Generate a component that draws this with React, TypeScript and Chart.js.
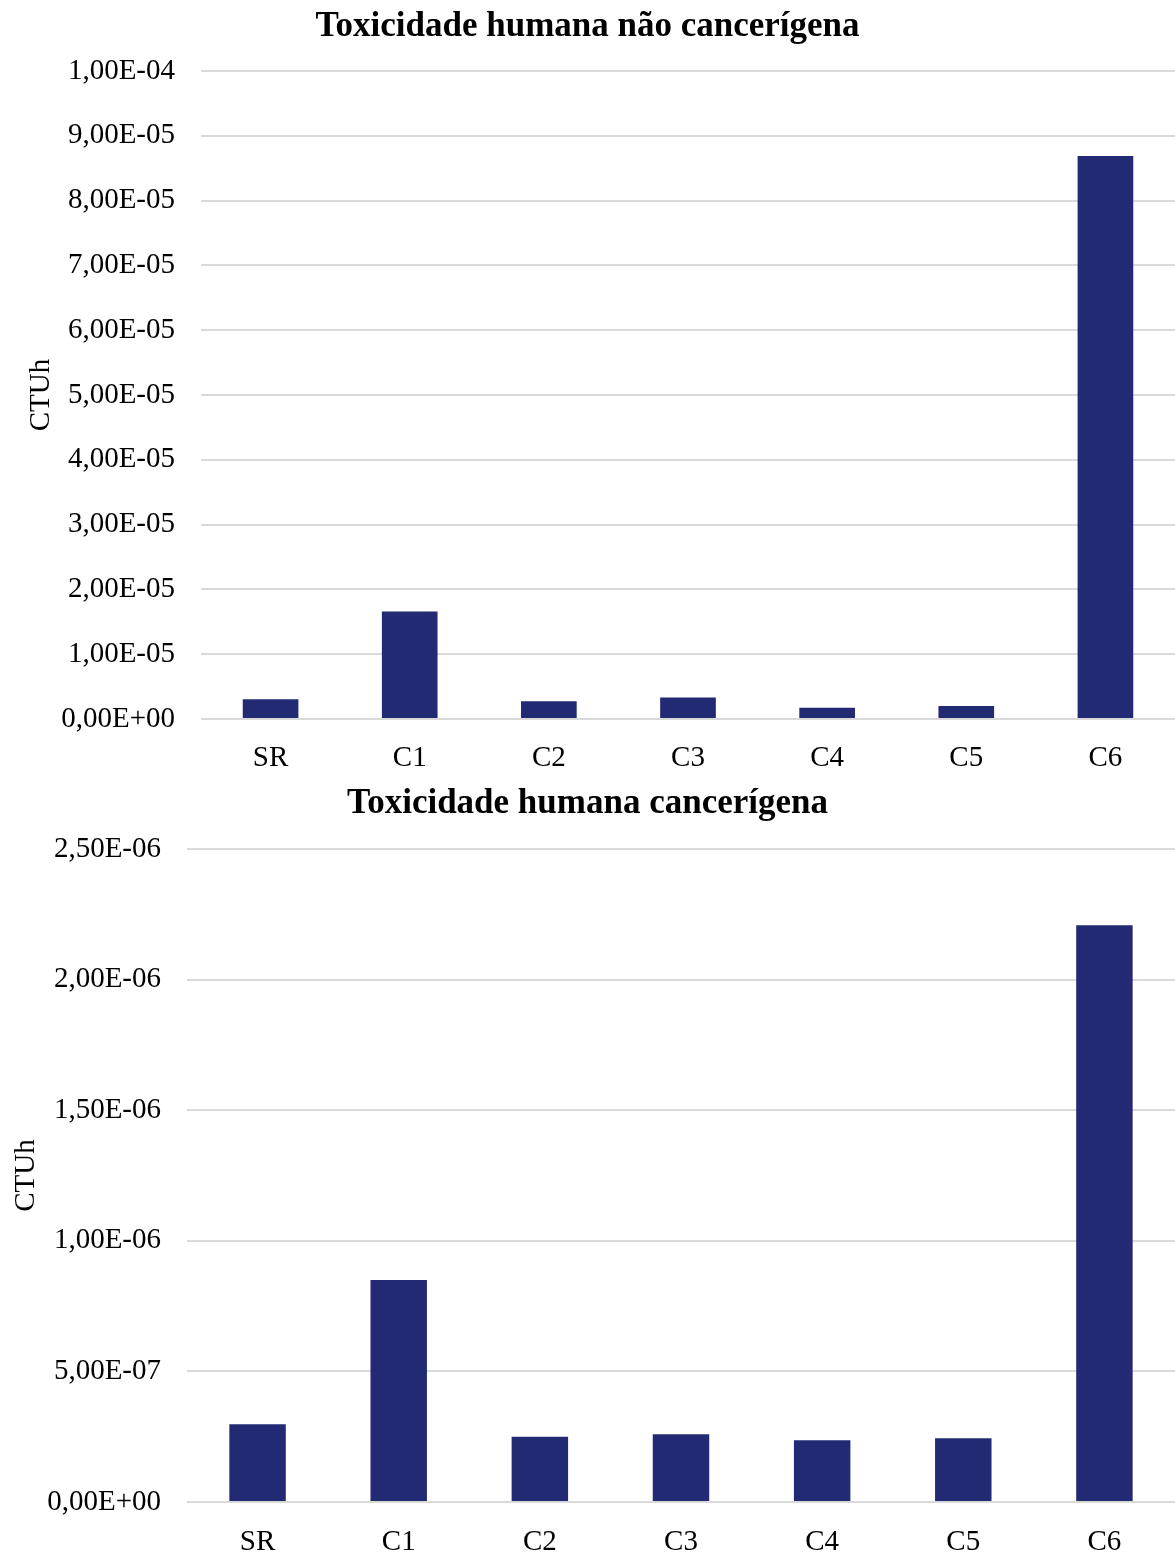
import React, { useEffect, useRef } from "react";
import { Chart, registerables } from "chart.js";

Chart.register(...registerables);

const categories = ["SR", "C1", "C2", "C3", "C4", "C5", "C6"];

// CTUh, non-carcinogenic human toxicity
const nonCancerValues = [3.03e-6, 1.66e-5, 2.72e-6, 3.33e-6, 1.74e-6, 2.0e-6, 8.69e-5];
const nonCancerMax = 1e-4;
const nonCancerStep = 1e-5;

// CTUh, carcinogenic human toxicity
const cancerValues = [2.98e-7, 8.5e-7, 2.5e-7, 2.59e-7, 2.36e-7, 2.44e-7, 2.208e-6];
const cancerMax = 2.5e-6;
const cancerStep = 5e-7;

const FONT = "'Liberation Serif', 'Times New Roman', serif";
const BAR_COLOR = "#222A74";
const GRID_COLOR = "#d9d9d9";

function fmtSci(v: number): string {
  const [m, e] = v.toExponential(2).split("e");
  const n = parseInt(e, 10);
  const sign = n < 0 ? "-" : "+";
  const abs = Math.abs(n).toString().padStart(2, "0");
  return `${m.replace(".", ",")}E${sign}${abs}`;
}

interface PanelProps {
  title: string;
  values: number[];
  max: number;
  step: number;
  width: number;
  height: number;
  yAxisWidth: number;
  xAxisHeight: number;
  titleTop: number;
  titleBottom: number;
  yTitlePad: number;
  xTickPad: number;
}

function Panel(p: PanelProps) {
  const ref = useRef<HTMLCanvasElement | null>(null);
  useEffect(() => {
    if (!ref.current) return;
    const chart = new Chart(ref.current, {
      type: "bar",
      data: {
        labels: categories,
        datasets: [
          {
            data: p.values,
            backgroundColor: BAR_COLOR,
            borderWidth: 0,
            barPercentage: 0.4,
            categoryPercentage: 1,
          },
        ],
      },
      options: {
        responsive: false,
        animation: false,
        layout: { padding: { left: 0, right: 0, top: 0, bottom: 0 } },
        plugins: {
          legend: { display: false },
          tooltip: { enabled: false },
          title: {
            display: true,
            text: p.title,
            color: "#000",
            font: { family: FONT, size: 35, weight: "bold" },
            padding: { top: p.titleTop, bottom: p.titleBottom },
          },
        },
        scales: {
          x: {
            grid: { display: false },
            border: { display: false },
            ticks: {
              color: "#000",
              font: { family: FONT, size: 29 },
              padding: p.xTickPad,
              maxRotation: 0,
            },
            afterFit: (s: any) => {
              s.height = p.xAxisHeight;
            },
          },
          y: {
            min: 0,
            max: p.max,
            grid: { color: GRID_COLOR, lineWidth: 2, drawTicks: false },
            border: { display: false },
            ticks: {
              stepSize: p.step,
              color: "#000",
              font: { family: FONT, size: 29 },
              padding: 26,
              callback: (v: any) => fmtSci(Number(v)),
            },
            title: {
              display: true,
              text: "CTUh",
              color: "#000",
              font: { family: FONT, size: 29 },
              padding: { top: p.yTitlePad, bottom: 0 },
            },
            afterFit: (s: any) => {
              s.width = p.yAxisWidth;
            },
          },
        },
      },
    });
    return () => chart.destroy();
  }, []);
  return (
    <canvas
      ref={ref}
      width={p.width}
      height={p.height}
      style={{ display: "block", width: p.width, height: p.height }}
    />
  );
}

export default function App() {
  return (
    <div style={{ position: "absolute", left: 0, top: 0, width: 1175, background: "#fff" }}>
      <Panel
        title="Toxicidade humana não cancerígena"
        values={nonCancerValues}
        max={nonCancerMax}
        step={nonCancerStep}
        width={1175}
        height={778}
        yAxisWidth={201}
        xAxisHeight={59}
        titleTop={6}
        titleBottom={23}
        yTitlePad={24}
        xTickPad={14}
      />
      <Panel
        title="Toxicidade humana cancerígena"
        values={cancerValues}
        max={cancerMax}
        step={cancerStep}
        width={1175}
        height={777}
        yAxisWidth={187}
        xAxisHeight={53}
        titleTop={5}
        titleBottom={24}
        yTitlePad={9}
        xTickPad={15}
      />
    </div>
  );
}
